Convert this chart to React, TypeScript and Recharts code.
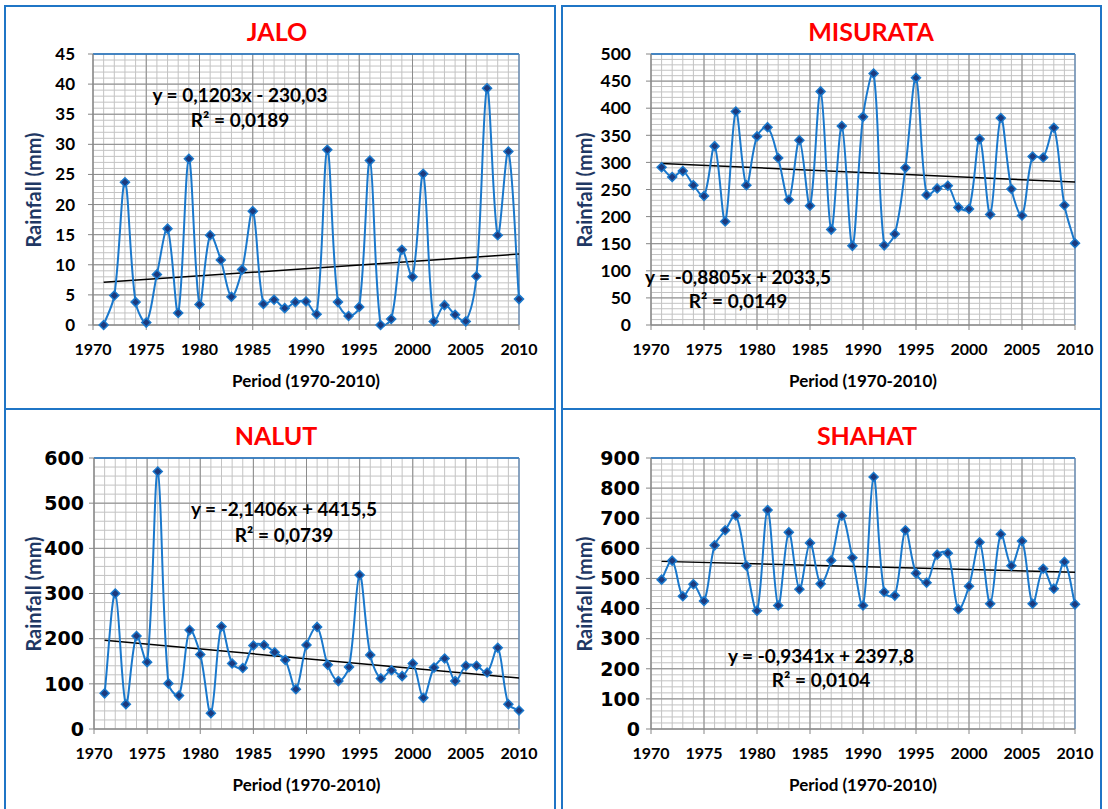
import React from 'react';
import { LineChart, Line, XAxis, YAxis, CartesianGrid, ReferenceLine } from 'recharts';

const FONT = "Lato, 'Open Sans', sans-serif";
const BLUE = '#1f75c6';

const YEARS = [
  1971, 1972, 1973, 1974, 1975, 1976, 1977, 1978, 1979, 1980,
  1981, 1982, 1983, 1984, 1985, 1986, 1987, 1988, 1989, 1990,
  1991, 1992, 1993, 1994, 1995, 1996, 1997, 1998, 1999, 2000,
  2001, 2002, 2003, 2004, 2005, 2006, 2007, 2008, 2009, 2010,
];
const X_TICKS = [1970, 1975, 1980, 1985, 1990, 1995, 2000, 2005, 2010];

const JALO_RAIN = [
  0, 4.9, 23.7, 3.8, 0.4, 8.4, 16.0, 2.0, 27.6, 3.4,
  14.9, 10.8, 4.7, 9.2, 18.9, 3.5, 4.2, 2.8, 3.8, 3.9,
  1.8, 29.1, 3.8, 1.5, 3.0, 27.3, 0, 1.0, 12.5, 8.0,
  25.1, 0.6, 3.3, 1.7, 0.6, 8.1, 39.3, 14.9, 28.8, 4.3,
];
const MISURATA_RAIN = [
  291, 273, 284, 258, 238, 330, 191, 394, 258, 348,
  365, 308, 231, 341, 220, 431, 176, 367, 146, 384,
  464, 147, 168, 290, 456, 240, 252, 257, 217, 214,
  343, 204, 382, 251, 202, 311, 309, 364, 221, 151,
];
const NALUT_RAIN = [
  79, 300, 55, 206, 148, 570, 101, 74, 219, 165,
  35, 227, 145, 135, 185, 186, 170, 153, 88, 186,
  226, 142, 106, 137, 341, 164, 112, 130, 117, 145,
  69, 136, 156, 106, 140, 140, 125, 180, 55, 41,
];
const SHAHAT_RAIN = [
  496, 559, 441, 481, 425, 610, 660, 709, 542, 393,
  727, 410, 653, 464, 618, 482, 560, 708, 569, 410,
  837, 455, 443, 660, 517, 486, 579, 584, 398, 474,
  620, 416, 647, 542, 624, 416, 532, 466, 555, 414,
];

const JALO_TICKS = [0, 5, 10, 15, 20, 25, 30, 35, 40, 45];
const MISURATA_TICKS = [0, 50, 100, 150, 200, 250, 300, 350, 400, 450, 500];
const NALUT_TICKS = [0, 100, 200, 300, 400, 500, 600];
const SHAHAT_TICKS = [0, 100, 200, 300, 400, 500, 600, 700, 800, 900];

// trend line coefficients as printed on the chart
const JALO_TREND = [0.1203, -230.03];
const MISURATA_TREND = [-0.8805, 2033.5];
const NALUT_TREND = [-2.1406, 4415.5];
const SHAHAT_TREND = [-0.9341, 2397.8];

// Excel-like smoothed line: neighbour tangent, split by the ratio of the segment lengths
const S = 1 / 3;
const excelCurve = (context: any) => {
  let pts: number[][] = [];
  const dist = (a: number[], b: number[]) => Math.hypot(b[0] - a[0], b[1] - a[1]);
  return {
    areaStart() {},
    areaEnd() {},
    lineStart() {
      pts = [];
    },
    point(x: number, y: number) {
      pts.push([+x, +y]);
    },
    lineEnd() {
      if (!pts.length) return;
      context.moveTo(pts[0][0], pts[0][1]);
      for (let i = 0; i < pts.length - 1; i++) {
        const p0 = pts[i - 1] || pts[i];
        const p1 = pts[i];
        const p2 = pts[i + 1];
        const p3 = pts[i + 2] || p2;
        const d01 = dist(p0, p1);
        const d12 = dist(p1, p2);
        const d23 = dist(p2, p3);
        const f1 = d01 + d12 > 0 ? (d12 / (d01 + d12)) * S : 0;
        const f2 = d12 + d23 > 0 ? (d12 / (d12 + d23)) * S : 0;
        context.bezierCurveTo(
          p1[0] + (p2[0] - p0[0]) * f1,
          p1[1] + (p2[1] - p0[1]) * f1,
          p2[0] - (p3[0] - p1[0]) * f2,
          p2[1] - (p3[1] - p1[1]) * f2,
          p2[0],
          p2[1]
        );
      }
    },
  };
};

const Diamond = (props: any) => {
  const { cx, cy } = props;
  if (cx == null || cy == null) return null;
  const r = 4.5;
  return (
    <path
      d={`M${cx},${cy - r}L${cx + r},${cy}L${cx},${cy + r}L${cx - r},${cy}Z`}
      fill="#1d3a7c"
      stroke="#1a78cc"
      strokeWidth={1.5}
    />
  );
};

const Txt = ({ x, y, size, color = '#000', rotate = false, children }: any) => (
  <div
    style={{
      position: 'absolute',
      left: x,
      top: y,
      transform: `translate(-50%, -50%)${rotate ? ' rotate(-90deg)' : ''}`,
      fontSize: size,
      fontWeight: 700,
      fontFamily: FONT,
      color,
      lineHeight: 1,
      whiteSpace: 'nowrap',
    }}
  >
    {children}
  </div>
);

const ALL_YEARS = Array.from({ length: 41 }, (_, i) => 1970 + i);

const Panel = ({ cfg }: any) => {
  const { plot } = cfg;
  const W = plot.x1 - plot.x0 + 90;
  const H = plot.y1 - plot.y0 + 50;
  const yMax = cfg.yTicks[cfg.yTicks.length - 1];
  const data = YEARS.map((year, i) => ({ year, rain: cfg.rain[i] }));
  const minorY: number[] = [];
  for (let v = 0; v <= yMax + 1e-9; v += cfg.minorStep) minorY.push(+v.toFixed(4));
  const [slope, intercept] = cfg.trend;
  const first = YEARS[0];
  const last = YEARS[YEARS.length - 1];
  const cxPlot = (plot.x0 + plot.x1) / 2;
  const cyPlot = (plot.y0 + plot.y1) / 2;

  return (
    <>
      <div
        style={{
          position: 'absolute',
          left: cfg.box.left,
          top: cfg.box.top,
          width: cfg.box.width,
          height: cfg.box.height,
          border: `2px solid ${BLUE}`,
          boxSizing: 'border-box',
        }}
      />
      <div style={{ position: 'absolute', left: plot.x0 - 60, top: plot.y0 - 10 }}>
        <LineChart width={W} height={H} data={data} margin={{ top: 10, right: 30, bottom: 0, left: 0 }}>
          <CartesianGrid horizontalValues={minorY} verticalValues={ALL_YEARS} stroke="#c3c3c3" strokeWidth={1} />
          <CartesianGrid stroke="#8c8c8c" strokeWidth={1} />
          <XAxis
            type="number"
            dataKey="year"
            domain={[1970, 2010]}
            ticks={X_TICKS}
            interval={0}
            height={40}
            tickSize={5}
            tickMargin={14}
            axisLine={{ stroke: '#868686' }}
            tickLine={{ stroke: '#868686' }}
            tick={{ fill: '#000', fontSize: 16, fontWeight: 700, fontFamily: FONT }}
          />
          <YAxis
            type="number"
            domain={[0, yMax]}
            ticks={cfg.yTicks}
            interval={0}
            width={60}
            tickSize={5}
            tickMargin={cfg.tickMargin}
            axisLine={{ stroke: '#868686' }}
            tickLine={{ stroke: '#868686' }}
            tick={{ fill: '#000', fontSize: cfg.tickSize, fontWeight: 700, fontFamily: cfg.tickFont }}
          />
          <ReferenceLine y={yMax} stroke={BLUE} strokeWidth={1.5} />
          <ReferenceLine x={2010} stroke="#5b8fc9" strokeWidth={1} />
          <ReferenceLine
            segment={[
              { x: first, y: slope * first + intercept },
              { x: last, y: slope * last + intercept },
            ]}
            stroke="#000"
            strokeWidth={1.5}
          />
          <Line
            type={excelCurve as any}
            dataKey="rain"
            stroke="#1a78cc"
            strokeWidth={2}
            dot={<Diamond />}
            activeDot={false}
            isAnimationActive={false}
          />
        </LineChart>
      </div>
      <Txt x={cfg.titleX} y={plot.y0 - 23} size={25} color="#ff0000">
        {cfg.title}
      </Txt>
      <Txt x={cfg.yLabelX} y={cyPlot} size={20} color="#1f3864" rotate>
        Rainfall (mm)
      </Txt>
      <Txt x={cxPlot} y={plot.y1 + 55} size={17}>
        Period (1970-2010)
      </Txt>
      <Txt x={cfg.eq.x} y={cfg.eq.y1} size={19}>
        {cfg.eq.line1}
      </Txt>
      <Txt x={cfg.eq.x} y={cfg.eq.y2} size={19}>
        {cfg.eq.line2}
      </Txt>
    </>
  );
};

const PANELS = [
  {
    title: 'JALO',
    rain: JALO_RAIN,
    yTicks: JALO_TICKS,
    minorStep: 1,
    trend: JALO_TREND,
    plot: { x0: 93, y0: 54, x1: 519, y1: 325 },
    box: { left: 4, top: 5, width: 552, height: 405 },
    titleX: 277,
    yLabelX: 33,
    tickMargin: 13,
    tickSize: 17,
    tickFont: FONT,
    eq: { x: 240, y1: 94, y2: 119, line1: 'y = 0,1203x - 230,03', line2: 'R² = 0,0189' },
  },
  {
    title: 'MISURATA',
    rain: MISURATA_RAIN,
    yTicks: MISURATA_TICKS,
    minorStep: 10,
    trend: MISURATA_TREND,
    plot: { x0: 651, y0: 54, x1: 1075, y1: 325 },
    box: { left: 561, top: 5, width: 541, height: 405 },
    titleX: 871,
    yLabelX: 584,
    tickMargin: 15,
    tickSize: 17.5,
    tickFont: FONT,
    eq: { x: 738, y1: 276, y2: 300, line1: 'y = -0,8805x + 2033,5', line2: 'R² = 0,0149' },
  },
  {
    title: 'NALUT',
    rain: NALUT_RAIN,
    yTicks: NALUT_TICKS,
    minorStep: 20,
    trend: NALUT_TREND,
    plot: { x0: 94, y0: 458, x1: 519, y1: 729 },
    box: { left: 4, top: 408, width: 552, height: 410 },
    titleX: 276,
    yLabelX: 33,
    tickMargin: 5,
    tickSize: 19,
    tickFont: "'DejaVu Sans', sans-serif",
    eq: { x: 284, y1: 508, y2: 534, line1: 'y = -2,1406x + 4415,5', line2: 'R² = 0,0739' },
  },
  {
    title: 'SHAHAT',
    rain: SHAHAT_RAIN,
    yTicks: SHAHAT_TICKS,
    minorStep: 20,
    trend: SHAHAT_TREND,
    plot: { x0: 651, y0: 458, x1: 1075, y1: 729 },
    box: { left: 561, top: 408, width: 541, height: 410 },
    titleX: 867,
    yLabelX: 584,
    tickMargin: 6,
    tickSize: 19,
    tickFont: "'DejaVu Sans', sans-serif",
    eq: { x: 821, y1: 655, y2: 679, line1: 'y = -0,9341x + 2397,8', line2: 'R² = 0,0104' },
  },
];

export default function App() {
  return (
    <div
      style={{
        position: 'absolute',
        left: 0,
        top: 0,
        width: 1108,
        height: 809,
        overflow: 'hidden',
        background: '#fff',
        fontFamily: FONT,
      }}
    >
      {PANELS.map((p) => (
        <Panel key={p.title} cfg={p} />
      ))}
    </div>
  );
}
